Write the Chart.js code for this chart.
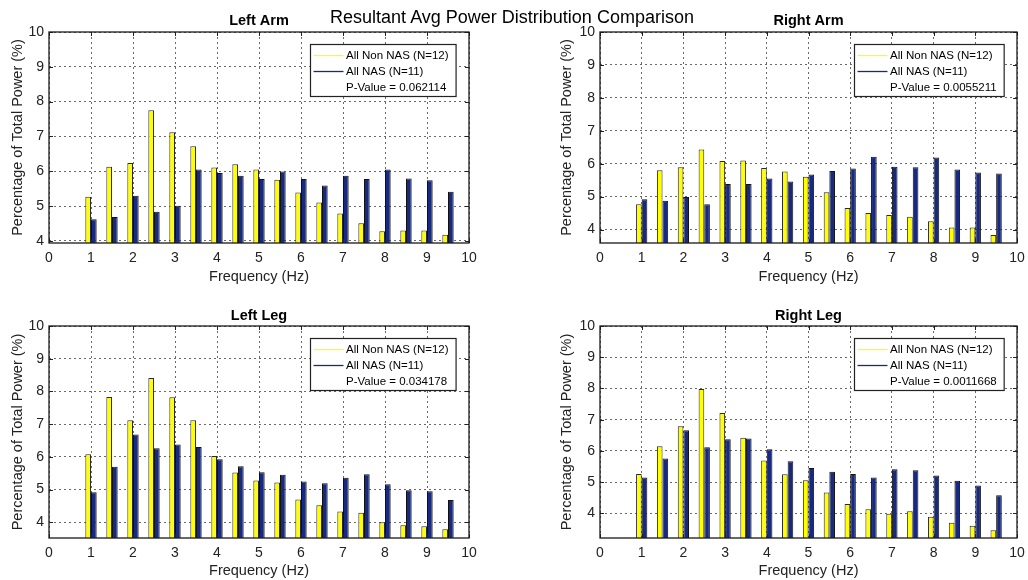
<!DOCTYPE html>
<html><head><meta charset="utf-8">
<script src="https://cdn.jsdelivr.net/npm/chart.js@4/dist/chart.umd.min.js"></script>
<style>
html,body{margin:0;padding:0;background:#fff;}
#wrap{position:relative;width:1028px;height:580px;overflow:hidden;background:#fff;}
canvas{position:absolute;}
#sup{position:absolute;left:-2px;top:7px;width:1028px;text-align:center;font:18px "Liberation Sans",Arial,sans-serif;line-height:20px;color:#000;z-index:2;white-space:nowrap;}
</style></head><body>
<div id="wrap">
<canvas id="c1" width="514" height="290" style="left:0;top:0"></canvas>
<canvas id="c2" width="514" height="290" style="left:514px;top:0"></canvas>
<canvas id="c3" width="514" height="290" style="left:0;top:290px"></canvas>
<canvas id="c4" width="514" height="290" style="left:514px;top:290px"></canvas>
<div id="sup">Resultant Avg Power Distribution Comparison</div>
</div>
<script>
// ---- data ----
const suptitle = 'Resultant Avg Power Distribution Comparison';
const frequencies = [1,1.5,2,2.5,3,3.5,4,4.5,5,5.5,6,6.5,7,7.5,8,8.5,9,9.5];
const xTicks = [0,1,2,3,4,5,6,7,8,9,10];
const yTicks = [4,5,6,7,8,9,10];
const seriesNames = ['All Non NAS (N=12)', 'All NAS (N=11)'];
const panelTitles = ['Left Arm', 'Right Arm', 'Left Leg', 'Right Leg'];
const pValues = ['P-Value = 0.062114', 'P-Value = 0.0055211', 'P-Value = 0.034178', 'P-Value = 0.0011668'];
const yMins = [3.94, 3.59, 3.52, 3.21];
const yMax = 10;

const leftArmNonNAS  = [5.27,6.13,6.24,7.75,7.12,6.72,6.11,6.20,6.05,5.76,5.39,5.10,4.79,4.51,4.28,4.30,4.30,4.18];
const leftArmNAS     = [4.62,4.69,5.30,4.84,5.01,6.05,5.95,5.87,5.78,5.99,5.78,5.59,5.87,5.78,6.05,5.79,5.74,5.41];
const rightArmNonNAS = [4.77,5.80,5.89,6.43,6.08,6.10,5.87,5.76,5.60,5.13,4.65,4.50,4.44,4.39,4.25,4.06,4.06,3.83];
const rightArmNAS    = [4.92,4.87,4.99,4.77,5.38,5.38,5.55,5.46,5.67,5.78,5.85,6.21,5.91,5.89,6.19,5.82,5.73,5.70];
const leftLegNonNAS  = [6.08,7.83,7.12,8.41,7.82,7.12,6.03,5.52,5.28,5.22,4.70,4.52,4.33,4.29,4.00,3.91,3.88,3.79];
const leftLegNAS     = [4.92,5.70,6.68,6.26,6.38,6.30,5.93,5.71,5.53,5.45,5.25,5.19,5.36,5.47,5.16,4.98,4.95,4.68];
const rightLegNonNAS = [5.26,6.15,6.79,7.98,7.21,6.42,5.69,5.25,5.06,4.67,4.30,4.13,3.99,4.07,3.89,3.70,3.60,3.46];
const rightLegNAS    = [5.15,5.76,6.66,6.12,6.37,6.40,6.05,5.67,5.45,5.33,5.26,5.15,5.41,5.38,5.21,5.04,4.89,4.58];

// ---- styles ----
const FONT = '"Liberation Sans", Arial, sans-serif';
const YELLOW = '#ffff00';
const BLUE = '#182a80';
const panels = [
  {id:'c1', title:panelTitles[0], a:leftArmNonNAS,  b:leftArmNAS,  p:pValues[0], ymin:yMins[0], pad:{left:0, right:45, top:0, bottom:0}, xh:47, tpad:{top:12.3,bottom:2.3}, ytp:9.6, xtp:4.6},
  {id:'c2', title:panelTitles[1], a:rightArmNonNAS, b:rightArmNAS, p:pValues[1], ymin:yMins[1], pad:{left:37, right:11, top:0, bottom:0}, xh:47, tpad:{top:12.3,bottom:2.3}, ytp:7.0, xtp:4.6},
  {id:'c3', title:panelTitles[2], a:leftLegNonNAS,  b:leftLegNAS,  p:pValues[2], ymin:yMins[2], pad:{left:0, right:45, top:0, bottom:0}, xh:42, tpad:{top:17.0,bottom:1.6}, ytp:9.6, xtp:0.6},
  {id:'c4', title:panelTitles[3], a:rightLegNonNAS, b:rightLegNAS, p:pValues[3], ymin:yMins[3], pad:{left:37, right:11, top:0, bottom:0}, xh:42, tpad:{top:17.0,bottom:1.6}, ytp:7.0, xtp:0.6}
];

const framePlugin = {
  id: 'matFrame',
  afterDraw(chart, args, opts) {
    const ctx = chart.ctx, ca = chart.chartArea;
    const xs = chart.scales.x, ys = chart.scales.y;
    ctx.save();
    // tick marks (inward)
    ctx.strokeStyle = '#222'; ctx.lineWidth = 1;
    ctx.beginPath();
    xTicks.forEach(v => {
      const px = Math.round(xs.getPixelForValue(v)) + 0.5;
      ctx.moveTo(px, ca.bottom); ctx.lineTo(px, ca.bottom - 4);
      ctx.moveTo(px, ca.top); ctx.lineTo(px, ca.top + 4);
    });
    yTicks.forEach(v => {
      const py = Math.round(ys.getPixelForValue(v)) + 0.5;
      ctx.moveTo(ca.left, py); ctx.lineTo(ca.left + 4, py);
      ctx.moveTo(ca.right, py); ctx.lineTo(ca.right - 4, py);
    });
    ctx.stroke();
    // frame
    ctx.lineWidth = 1.3; ctx.strokeStyle = '#1a1a1a';
    ctx.strokeRect(ca.left, ca.top, ca.right - ca.left, ca.bottom - ca.top);
    // legend
    ctx.font = '11.5px ' + FONT;
    const lines = [chart.data.datasets[0].label, chart.data.datasets[1].label, opts.pText];
    const tw = Math.max(...lines.map(t => ctx.measureText(t).width));
    const bw = 36 + tw + 7, bh = 52;
    const x0 = Math.round(ca.right - 13 - bw) + 0.5, y0 = Math.round(ca.top + 12) + 0.5;
    ctx.fillStyle = '#fff';
    ctx.fillRect(x0, y0, bw, bh);
    ctx.lineWidth = 1.2; ctx.strokeStyle = '#222';
    ctx.strokeRect(x0, y0, bw, bh);
    const rows = [11, 27, 43.3];
    [0,1].forEach(i => {
      ctx.strokeStyle = chart.data.datasets[i].backgroundColor;
      ctx.lineWidth = 1.3;
      ctx.beginPath(); ctx.moveTo(x0 + 3, y0 + rows[i]); ctx.lineTo(x0 + 33, y0 + rows[i]); ctx.stroke();
    });
    ctx.fillStyle = '#000'; ctx.textBaseline = 'middle'; ctx.textAlign = 'left';
    lines.forEach((t, i) => ctx.fillText(t, x0 + 35.5, y0 + rows[i]));
    ctx.restore();
  }
};

panels.forEach(pn => {
  new Chart(document.getElementById(pn.id), {
    type: 'bar',
    data: {
      labels: frequencies,
      datasets: [
        {label: seriesNames[0], data: pn.a, backgroundColor: YELLOW, borderColor: '#2a2a2a', borderWidth: 1, borderSkipped: 'bottom', clip: 0},
        {label: seriesNames[1], data: pn.b, backgroundColor: BLUE, borderColor: '#111', borderWidth: 1, borderSkipped: 'bottom', clip: 0}
      ]
    },
    options: {
      responsive: false,
      animation: false,
      devicePixelRatio: 1,
      categoryPercentage: 0.54,
      barPercentage: 1.0,
      layout: {padding: pn.pad},
      plugins: {
        legend: {display: false},
        tooltip: {enabled: false},
        title: {display: true, text: pn.title, fullSize: false, color: '#000',
                font: {family: FONT, size: 14.5, weight: 'bold'}, padding: pn.tpad},
        matFrame: {pText: pn.p}
      },
      scales: {
        x: {
          type: 'linear', min: 0, max: 10, offset: false,
          afterBuildTicks: s => { s.ticks = xTicks.map(v => ({value: v})); },
          afterFit: s => { s.height = pn.xh; s.paddingLeft = 0; s.paddingRight = 0; },
          ticks: {color: '#222', font: {family: FONT, size: 14}, padding: 7, maxRotation: 0, autoSkip: false},
          grid: {color: '#6a6a6a', lineWidth: 1, drawTicks: false, offset: false},
          border: {display: false, dash: [2, 3]},
          title: {display: true, text: 'Frequency (Hz)', color: '#222', font: {family: FONT, size: 14.5}, padding: {top: 0, bottom: pn.xtp}}
        },
        y: {
          type: 'linear', min: pn.ymin, max: yMax,
          afterBuildTicks: s => { s.ticks = yTicks.map(v => ({value: v})); },
          afterFit: s => { s.width = 49; s.paddingTop = 0; s.paddingBottom = 0; },
          ticks: {color: '#222', font: {family: FONT, size: 14}, padding: 5},
          grid: {color: '#6a6a6a', lineWidth: 1, drawTicks: false},
          border: {display: false, dash: [2, 3]},
          title: {display: true, text: 'Percentage of Total Power (%)', color: '#222', font: {family: FONT, size: 14.5}, padding: {top: pn.ytp, bottom: 0}}
        }
      }
    },
    plugins: [framePlugin]
  });
});
</script>
</body></html>
